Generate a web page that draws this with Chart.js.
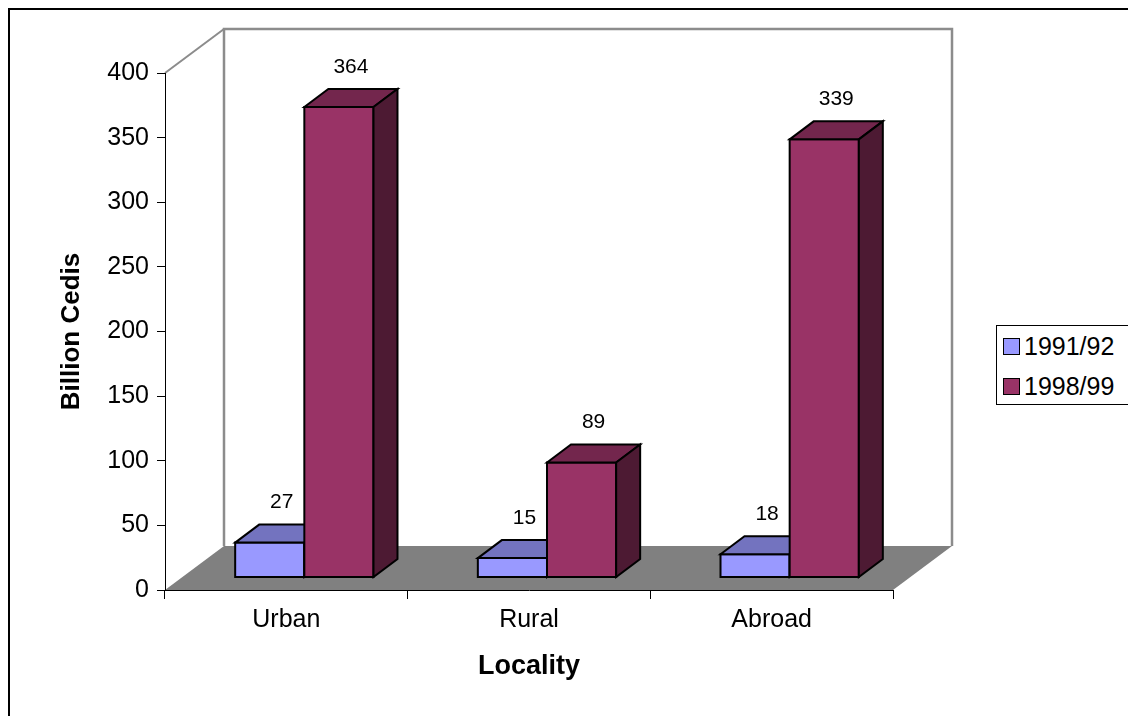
<!DOCTYPE html>
<html>
<head>
<meta charset="utf-8">
<title>Billion Cedis by Locality</title>
<script src="https://cdn.jsdelivr.net/npm/chart.js@4.4.1/dist/chart.umd.min.js"></script>
<style>
    html, body { margin: 0; padding: 0; background: #fff; overflow: hidden; }
    #wrap { position: relative; width: 1128px; height: 716px; overflow: hidden; }
    #legend {
        position: absolute; left: 996px; top: 325px; width: 150px; height: 78px;
        border: 1px solid #000; border-right: none; background: #fff;
        font-family: "Liberation Sans", Arial, sans-serif; font-size: 25px; color: #000;
    }
    .item { position: absolute; left: 6px; height: 30px; display: flex; align-items: center; white-space: nowrap; }
    .swatch { width: 15px; height: 15px; border: 1.5px solid #000; margin-right: 4px; }
</style>
</head>
<body>
<div id="wrap">
    <canvas id="chart" width="1128" height="716"></canvas>
    <div id="legend"></div>
</div>
<script>
// data
const categories = ['Urban', 'Rural', 'Abroad'];
const seriesNames = ['1991/92', '1998/99'];
const values9192 = [27, 15, 18];
const values9899 = [364, 89, 339];
const yTickValues = [0, 50, 100, 150, 200, 250, 300, 350, 400];

// front / top / side colours per series
const faceColors = [
    { front: '#9999FF', top: '#7373BF', side: '#4D4D80' },
    { front: '#993366', top: '#73264D', side: '#4D1A33' }
];

const FONT = '"Liberation Sans", Arial, sans-serif';

// 3D offsets (pixels)
const FRONT = { x: 18, y: -12.5 };
const BAR_DEPTH = { x: 24, y: -18 };
const WALL = { x: 59, y: -44 };

function poly(ctx, pts, fill) {
    ctx.beginPath();
    ctx.moveTo(pts[0][0], pts[0][1]);
    for (let i = 1; i < pts.length; i++) ctx.lineTo(pts[i][0], pts[i][1]);
    ctx.closePath();
    ctx.fillStyle = fill;
    ctx.fill();
    ctx.stroke();
}

const scenePlugin = {
    id: 'scene3d',
    beforeDraw(chart) {
        const { ctx, chartArea: a } = chart;
        ctx.save();
        // outer frame
        ctx.strokeStyle = '#000';
        ctx.lineWidth = 2;
        ctx.beginPath();
        ctx.moveTo(9, chart.height);
        ctx.lineTo(9, 9);
        ctx.lineTo(chart.width, 9);
        ctx.stroke();

        // back wall + left wall edges
        ctx.strokeStyle = '#8C8C8C';
        ctx.lineWidth = 2.5;
        ctx.beginPath();
        ctx.moveTo(a.left + WALL.x, a.bottom + WALL.y);
        ctx.lineTo(a.left + WALL.x, a.top + WALL.y);
        ctx.lineTo(a.right + WALL.x, a.top + WALL.y);
        ctx.lineTo(a.right + WALL.x, a.bottom + WALL.y);
        ctx.stroke();
        ctx.lineWidth = 2;
        ctx.beginPath();
        ctx.moveTo(a.left, a.top);
        ctx.lineTo(a.left + WALL.x, a.top + WALL.y);
        ctx.stroke();

        // floor
        ctx.fillStyle = '#808080';
        ctx.beginPath();
        ctx.moveTo(a.left, a.bottom);
        ctx.lineTo(a.left + WALL.x, a.bottom + WALL.y);
        ctx.lineTo(a.right + WALL.x, a.bottom + WALL.y);
        ctx.lineTo(a.right, a.bottom);
        ctx.closePath();
        ctx.fill();
        ctx.restore();
    },
    afterDatasetsDraw(chart) {
        const ctx = chart.ctx;
        ctx.save();
        ctx.strokeStyle = '#000';
        ctx.lineWidth = 2;
        ctx.lineJoin = 'miter';
        // draw category by category so the taller bar covers the side of the first one
        for (let i = 0; i < categories.length; i++) {
            chart.data.datasets.forEach((ds, d) => {
                const el = chart.getDatasetMeta(d).data[i];
                const { x, y, base, width } = el.getProps(['x', 'y', 'base', 'width'], true);
                const c = faceColors[d];
                const l = x - width / 2 + FRONT.x;
                const r = x + width / 2 + FRONT.x;
                const t = y + FRONT.y;
                const b = base + FRONT.y;
                poly(ctx, [[l, t], [r, t], [r, b], [l, b]], c.front);
                poly(ctx, [[l, t], [l + BAR_DEPTH.x, t + BAR_DEPTH.y], [r + BAR_DEPTH.x, t + BAR_DEPTH.y], [r, t]], c.top);
                poly(ctx, [[r, t], [r + BAR_DEPTH.x, t + BAR_DEPTH.y], [r + BAR_DEPTH.x, b + BAR_DEPTH.y], [r, b]], c.side);
            });
        }
        // value labels
        ctx.fillStyle = '#000';
        ctx.font = '21px ' + FONT;
        ctx.textAlign = 'center';
        ctx.textBaseline = 'middle';
        chart.data.datasets.forEach((ds, d) => {
            chart.getDatasetMeta(d).data.forEach((el, i) => {
                const { x, y } = el.getProps(['x', 'y'], true);
                ctx.fillText(String(ds.data[i]), x + FRONT.x + 12, y + FRONT.y + BAR_DEPTH.y - 22);
            });
        });
        ctx.restore();
    }
};

const ctx = document.getElementById('chart').getContext('2d');
new Chart(ctx, {
    type: 'bar',
    data: {
        labels: categories,
        datasets: [
            { label: seriesNames[0], data: values9192, backgroundColor: 'rgba(0,0,0,0)', borderWidth: 0 },
            { label: seriesNames[1], data: values9899, backgroundColor: 'rgba(0,0,0,0)', borderWidth: 0 }
        ]
    },
    options: {
        responsive: false,
        animation: false,
        devicePixelRatio: 1,
        layout: { padding: { top: 73, right: 235, bottom: 0, left: 0 } },
        datasets: { bar: { categoryPercentage: 0.57, barPercentage: 1 } },
        plugins: {
            legend: { display: false },
            tooltip: { enabled: false }
        },
        scales: {
            x: {
                grid: { drawOnChartArea: false, tickLength: 9, color: '#000', offset: true },
                border: { color: '#000', width: 1 },
                ticks: { color: '#000', font: { family: FONT, size: 25 }, padding: 6, maxRotation: 0 },
                title: {
                    display: true, text: 'Locality', color: '#000',
                    font: { family: FONT, size: 27, weight: 'bold' },
                    padding: { top: 0, bottom: 33 }
                },
                afterFit(scale) { scale.height = 126; }
            },
            y: {
                min: 0,
                max: 400,
                grid: { drawOnChartArea: false, tickLength: 8, color: '#000' },
                border: { color: '#000', width: 1 },
                ticks: { color: '#000', font: { family: FONT, size: 25 }, padding: 8 },
                afterBuildTicks(scale) { scale.ticks = yTickValues.map(v => ({ value: v })); },
                title: {
                    display: true, text: 'Billion Cedis', color: '#000',
                    font: { family: FONT, size: 26, weight: 'bold' },
                    padding: { top: 56, bottom: 0 }
                },
                afterFit(scale) { scale.width = 165; }
            }
        }
    },
    plugins: [scenePlugin]
});

// legend box
const legend = document.getElementById('legend');
seriesNames.forEach((name, i) => {
    const item = document.createElement('div');
    item.className = 'item';
    item.style.top = (5.5 + i * 40) + 'px';
    item.innerHTML = `<span class="swatch" style="background:${faceColors[i].front}"></span><span>${name}</span>`;
    legend.appendChild(item);
});
</script>
</body>
</html>
